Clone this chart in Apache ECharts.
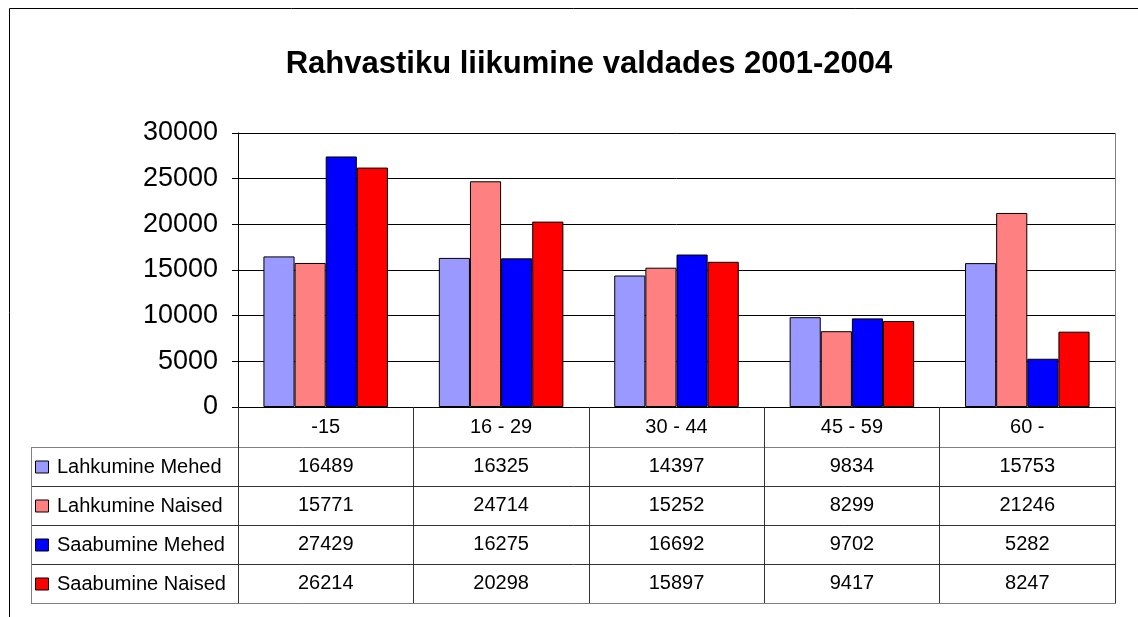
<!DOCTYPE html>
<html>
<head>
<meta charset="utf-8">
<script src="https://cdn.jsdelivr.net/npm/echarts@6/dist/echarts.min.js"></script>
<style>
  html, body { margin: 0; padding: 0; background: #fff; }
  #chart { width: 1138px; height: 617px; }
</style>
</head>
<body>
<div id="chart"></div>
<script>
// vanuserühmad
const categories = ['-15', '16 - 29', '30 - 44', '45 - 59', '60 -']
const seriesNames = ['Lahkumine Mehed', 'Lahkumine Naised', 'Saabumine Mehed', 'Saabumine Naised']
const lahkumineMehed = [16489, 16325, 14397, 9834, 15753]
const lahkumineNaised = [15771, 24714, 15252, 8299, 21246]
const saabumineMehed = [27429, 16275, 16692, 9702, 5282]
const saabumineNaised = [26214, 20298, 15897, 9417, 8247]
const colors = ['#9999ff', '#ff8080', '#0000ff', '#ff0000']

const allValues = [lahkumineMehed, lahkumineNaised, saabumineMehed, saabumineNaised]

// plot + tabeli paigutus
const plotLeft = 238, plotRight = 1115, plotTop = 133, plotBottom = 407
const rowTop = 447, rowH = 39
const legendLeft = 31
const colW = (plotRight - plotLeft) / categories.length
const tableBottom = rowTop + rowH * seriesNames.length
const font = 'Arial, "Liberation Sans", sans-serif'

const graphic = []
const line = (x1, y1, x2, y2, color) => {
  graphic.push({ type: 'line', silent: true, shape: { x1, y1, x2, y2 }, style: { stroke: color, lineWidth: 1 } })
}
// välimine raam
line(9.5, 8.5, 1138, 8.5, '#000')
line(9.5, 8.5, 9.5, 617, '#000')
// plotiala ülemine ja parem serv
line(plotLeft, plotTop + 0.5, plotRight, plotTop + 0.5, '#808080')
line(plotRight + 0.5, plotTop, plotRight + 0.5, tableBottom + 1, '#808080')
// tabeli read
for (let r = 0; r <= seriesNames.length; r++) {
  const y = rowTop + r * rowH + 0.5
  const c = (r === 0 || r === seriesNames.length) ? '#808080' : '#333'
  line(legendLeft, y, plotRight + 1, y, c)
}
line(legendLeft + 0.5, rowTop, legendLeft + 0.5, tableBottom + 1, '#808080')

seriesNames.forEach((name, r) => {
  const cy = rowTop + r * rowH + rowH / 2
  graphic.push({
    type: 'rect', silent: true,
    shape: { x: 35.5, y: cy - 5.5, width: 13, height: 12 },
    style: { fill: colors[r], stroke: '#000', lineWidth: 1 }
  })
  graphic.push({
    type: 'text', silent: true, x: 57, y: cy + 1,
    style: { text: name, font: '20px ' + font, fill: '#000', verticalAlign: 'middle' }
  })
  allValues[r].forEach((v, i) => {
    graphic.push({
      type: 'text', silent: true, x: plotLeft + colW * (i + 0.5), y: cy,
      style: { text: String(v), font: '20px ' + font, fill: '#000', align: 'center', verticalAlign: 'middle' }
    })
  })
})

const option = {
  backgroundColor: '#fff',
  animation: false,
  title: {
    text: 'Rahvastiku liikumine valdades 2001-2004',
    left: 584, top: 44, textAlign: 'center',
    textStyle: { fontFamily: font, fontSize: 31, fontWeight: 'bold', color: '#000' }
  },
  grid: { left: plotLeft, right: 1138 - plotRight, top: plotTop, bottom: 617 - plotBottom },
  xAxis: {
    type: 'category',
    data: categories,
    axisLine: { lineStyle: { color: '#000', width: 1 } },
    axisTick: { show: true, length: tableBottom - plotBottom, lineStyle: { color: '#333' } },
    axisLabel: { color: '#000', fontFamily: font, fontSize: 20, margin: 10 }
  },
  yAxis: {
    type: 'value',
    min: 0, max: 30000, interval: 5000,
    axisLine: { show: true, lineStyle: { color: '#000' } },
    axisTick: { show: true, length: 6, lineStyle: { color: '#000' } },
    axisLabel: { color: '#000', fontFamily: font, fontSize: 27, margin: 20, formatter: v => String(v) },
    splitLine: { lineStyle: { color: '#000', width: 1 } }
  },
  series: seriesNames.map((name, k) => ({
    name,
    type: 'bar',
    data: allValues[k],
    barGap: 0,
    barCategoryGap: '29%',
    itemStyle: { color: colors[k], borderColor: '#000', borderWidth: 1 }
  })),
  graphic
}

const myChart = echarts.init(document.getElementById('chart'))
myChart.setOption(option)
</script>
</body>
</html>
